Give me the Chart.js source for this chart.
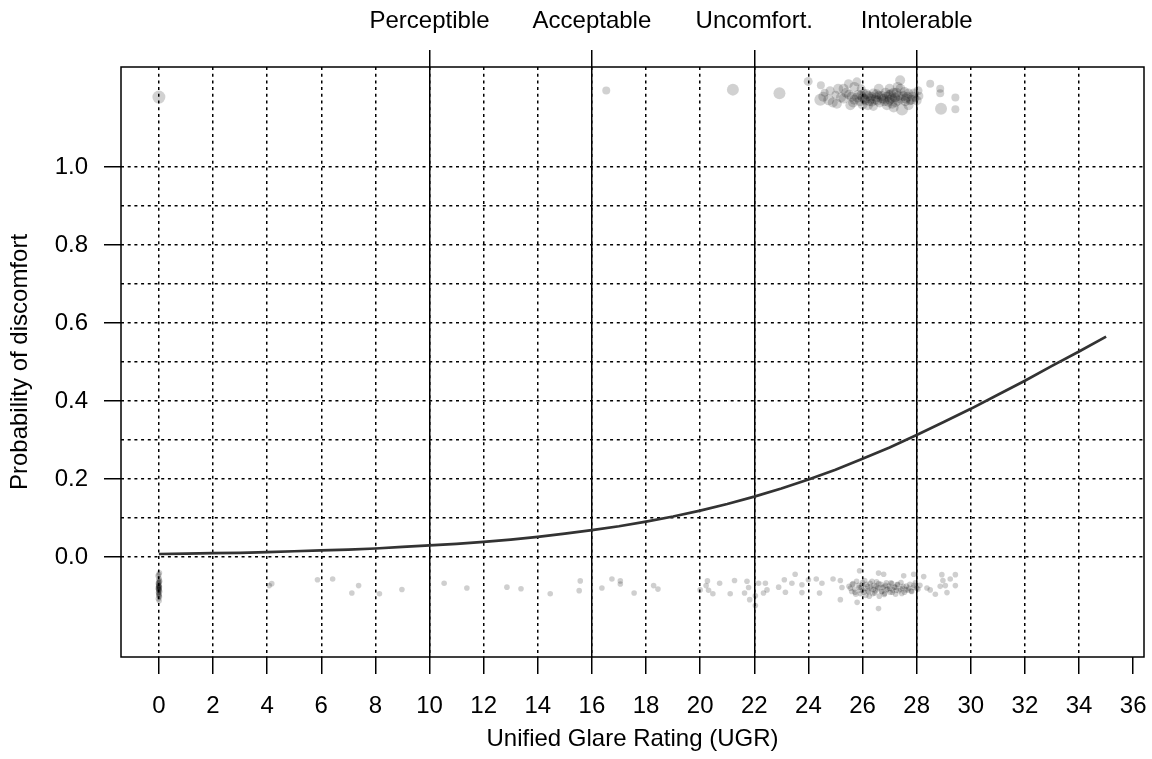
<!DOCTYPE html>
<html>
<head>
<meta charset="utf-8">
<script src="https://cdn.jsdelivr.net/npm/chart.js@4"></script>
<style>
  body { margin: 0; background: #fff; }
</style>
</head>
<body>
<canvas id="grafico" width="1152" height="759"></canvas>
<script>
// tick values
const xTicks = [0, 2, 4, 6, 8, 10, 12, 14, 16, 18, 20, 22, 24, 26, 28, 30, 32, 34, 36];
const yGrid = [0, 0.1, 0.2, 0.3, 0.4, 0.5, 0.6, 0.7, 0.8, 0.9, 1.0];
const zoneTicks = [10, 16, 22, 28];
const zoneLabels = ["Perceptible", "Acceptable", "Uncomfort.", "Intolerable"];

// fitted curve
const curveX = [0, 1, 2, 3, 4, 5, 6, 7, 8, 9, 10, 11, 12, 13, 14, 15, 16, 17, 18, 19, 20, 21, 22, 23, 24, 25, 26, 27, 28, 29, 30, 31, 32, 33, 34, 35];
const curveY = [0.008, 0.009, 0.010, 0.011, 0.013, 0.015, 0.017, 0.019, 0.022, 0.026, 0.030, 0.034, 0.039, 0.045, 0.052, 0.060, 0.069, 0.079, 0.091, 0.104, 0.119, 0.136, 0.155, 0.176, 0.199, 0.224, 0.252, 0.281, 0.313, 0.346, 0.380, 0.416, 0.452, 0.490, 0.527, 0.565];

// "discomfort" answers, jittered above the plot: [ugr, y, radius]
const topPoints = [
  [0.0, 1.179, 6.5], [16.53, 1.196, 4], [21.21, 1.198, 6], [22.93, 1.189, 6], [23.99, 1.219, 4.5],
  [24.46, 1.209, 4], [24.44, 1.172, 6], [24.75, 1.172, 5.5], [24.6, 1.19, 4], [25.0, 1.185, 4],
  [25.2, 1.178, 5], [25.48, 1.213, 4.5], [25.79, 1.218, 4.5], [25.55, 1.158, 5], [25.4, 1.19, 5],
  [25.6, 1.18, 5], [25.7, 1.172, 5], [25.85, 1.185, 5], [25.9, 1.168, 5], [26.0, 1.178, 5],
  [26.05, 1.19, 4], [26.1, 1.17, 5], [26.2, 1.182, 5], [26.3, 1.175, 5], [26.35, 1.165, 4],
  [26.4, 1.188, 5], [26.5, 1.178, 5], [26.55, 1.17, 5], [26.6, 1.184, 4], [26.7, 1.176, 5],
  [26.8, 1.168, 5], [26.85, 1.19, 5], [26.9, 1.18, 5], [27.0, 1.172, 5], [27.05, 1.186, 5],
  [27.1, 1.162, 5], [27.2, 1.178, 5], [27.25, 1.19, 5], [27.3, 1.17, 5], [27.39, 1.222, 5],
  [27.4, 1.2, 5], [27.46, 1.147, 6], [27.5, 1.182, 5], [27.6, 1.175, 5], [27.7, 1.188, 5],
  [27.75, 1.168, 4], [27.85, 1.18, 5], [27.95, 1.176, 4], [28.1, 1.182, 4], [28.5, 1.213, 4],
  [28.87, 1.2, 4], [28.87, 1.189, 4], [28.9, 1.149, 6], [29.43, 1.178, 4], [29.43, 1.148, 4],
  [25.3, 1.175, 5], [25.5, 1.185, 5], [25.65, 1.165, 5], [25.8, 1.178, 5], [25.95, 1.183, 5],
  [26.08, 1.174, 5], [26.15, 1.186, 5], [26.25, 1.168, 5], [26.33, 1.18, 5], [26.45, 1.172, 5],
  [26.52, 1.186, 5], [26.63, 1.165, 5], [26.72, 1.182, 5], [26.78, 1.174, 5], [26.95, 1.167, 5],
  [26.98, 1.184, 5], [27.08, 1.176, 5], [27.15, 1.19, 5], [27.22, 1.166, 5], [27.33, 1.182, 5],
  [27.42, 1.174, 5], [27.55, 1.192, 5], [27.58, 1.168, 5], [27.65, 1.18, 5], [27.8, 1.172, 5],
  [27.9, 1.188, 5], [28.0, 1.17, 5], [25.1, 1.2, 5], [24.9, 1.165, 5], [24.55, 1.18, 5],
  [25.3, 1.2, 5], [25.7, 1.205, 5], [26.2, 1.158, 5], [26.6, 1.2, 5], [26.9, 1.158, 5],
  [27.3, 1.205, 5], [27.7, 1.158, 5], [26.0, 1.16, 5], [27.0, 1.2, 5], [25.95, 1.2, 4.5],
  [27.15, 1.152, 5], [26.4, 1.155, 4.5], [24.8, 1.195, 4.5], [25.05, 1.162, 5], [28.05, 1.195, 4.5]
];

// "no discomfort" answers, jittered below the plot: [ugr, y]
const botPoints = [
  [0.02, -0.040], [-0.03, -0.048], [0.01, -0.055], [0.03, -0.062], [-0.02, -0.067], [0.0, -0.072],
  [0.02, -0.076], [-0.03, -0.080], [0.01, -0.084], [0.03, -0.088], [-0.01, -0.092], [0.0, -0.097],
  [0.02, -0.102], [-0.02, -0.107], [0.01, -0.112], [0.0, -0.078], [-0.01, -0.083], [0.0, -0.045],
  [0.0, -0.058], [0.01, -0.064], [-0.01, -0.070], [0.0, -0.074], [0.01, -0.079], [0.0, -0.086],
  [-0.01, -0.090], [0.0, -0.095], [0.01, -0.100], [0.0, -0.065], [-0.01, -0.075], [0.0, -0.082],
  [4.17, -0.068], [4.08, -0.073], [5.86, -0.058], [6.42, -0.056], [7.13, -0.092], [7.38, -0.073],
  [8.15, -0.094], [8.98, -0.083], [10.54, -0.067], [11.38, -0.079], [12.86, -0.077], [13.38, -0.081],
  [14.46, -0.094], [15.57, -0.061], [15.53, -0.086], [16.37, -0.079], [16.74, -0.056], [17.05, -0.061],
  [17.05, -0.069], [17.56, -0.092], [18.28, -0.073], [18.44, -0.082],
  [20.0, -0.084], [20.27, -0.061], [20.22, -0.073], [20.31, -0.085], [20.47, -0.094], [20.72, -0.067],
  [21.11, -0.094], [21.27, -0.060], [21.64, -0.092], [21.73, -0.062], [21.79, -0.078], [21.83, -0.109],
  [22.04, -0.124], [22.04, -0.099], [22.16, -0.067], [22.41, -0.067], [22.47, -0.084], [22.34, -0.092],
  [22.9, -0.077], [23.11, -0.058], [23.15, -0.090], [23.39, -0.067], [23.51, -0.044], [23.76, -0.071],
  [23.76, -0.091], [24.0, -0.058], [24.29, -0.056], [24.41, -0.092], [24.5, -0.067], [24.91, -0.056],
  [25.18, -0.060], [25.18, -0.109], [25.24, -0.078], [25.89, -0.035], [25.8, -0.116], [26.59, -0.132],
  [26.59, -0.041], [26.78, -0.044],
  [25.5, -0.075], [25.6, -0.088], [25.65, -0.068], [25.7, -0.082], [25.75, -0.095], [25.85, -0.072],
  [25.9, -0.085], [25.95, -0.078], [26.0, -0.065], [26.05, -0.090], [26.1, -0.080], [26.15, -0.070],
  [26.2, -0.086], [26.25, -0.100], [26.3, -0.076], [26.35, -0.062], [26.4, -0.083], [26.45, -0.092],
  [26.5, -0.074], [26.55, -0.081], [26.6, -0.068], [26.7, -0.088], [26.75, -0.078], [26.8, -0.096],
  [26.85, -0.072], [26.9, -0.084], [27.0, -0.080], [27.05, -0.066], [27.1, -0.090], [27.2, -0.077],
  [27.25, -0.085], [27.3, -0.070], [27.4, -0.082], [27.45, -0.093], [27.5, -0.075], [27.6, -0.084],
  [27.7, -0.079], [27.8, -0.087], [27.9, -0.072], [28.0, -0.080],
  [25.55, -0.080], [25.62, -0.070], [25.72, -0.090], [25.78, -0.062], [25.88, -0.078], [25.92, -0.094],
  [25.98, -0.071], [26.02, -0.085], [26.08, -0.060], [26.12, -0.098], [26.18, -0.075], [26.22, -0.089],
  [26.28, -0.067], [26.32, -0.081], [26.38, -0.094], [26.42, -0.072], [26.48, -0.086], [26.52, -0.063],
  [26.58, -0.078], [26.62, -0.100], [26.68, -0.070], [26.72, -0.088], [26.78, -0.076], [26.82, -0.093],
  [26.88, -0.066], [26.92, -0.082], [26.98, -0.074], [27.02, -0.090], [27.08, -0.068], [27.12, -0.084],
  [27.18, -0.077], [27.22, -0.095], [27.28, -0.071], [27.35, -0.086], [27.42, -0.065], [27.48, -0.080],
  [27.55, -0.090], [27.62, -0.074], [27.68, -0.084], [27.75, -0.070], [27.82, -0.088], [27.88, -0.078],
  [27.95, -0.066], [28.05, -0.082], [28.12, -0.072],
  [27.52, -0.048], [27.89, -0.044], [28.26, -0.050], [28.5, -0.084], [28.69, -0.095], [28.93, -0.045],
  [28.97, -0.060], [29.06, -0.073], [29.12, -0.091], [29.24, -0.056], [29.43, -0.045], [29.43, -0.073],
  [28.87, -0.075], [28.38, -0.079]
];

const negro = "#000000";
Chart.defaults.font.family = "'Liberation Sans', Arial, sans-serif";
Chart.defaults.font.size = 24;
Chart.defaults.color = negro;

const marco = {
  id: "marco",
  afterDraw(chart) {
    const a = chart.chartArea;
    const ctx = chart.ctx;
    ctx.save();
    ctx.strokeStyle = negro;
    ctx.lineWidth = 1.5;
    ctx.strokeRect(a.left, a.top, a.right - a.left, a.bottom - a.top);
    ctx.restore();
  }
};

function sinMargenX(s) {
  s.paddingLeft = 0;
  s.paddingRight = 0;
}

new Chart(document.getElementById("grafico"), {
  type: "scatter",
  data: {
    datasets: [
      {
        data: topPoints.map(p => ({ x: p[0], y: p[1] })),
        pointRadius: topPoints.map(p => p[2]),
        pointBackgroundColor: "rgba(0,0,0,0.18)",
        pointBorderWidth: 0
      },
      {
        data: botPoints.map(p => ({ x: p[0], y: p[1] })),
        pointRadius: 2.8,
        pointBackgroundColor: "rgba(0,0,0,0.19)",
        pointBorderWidth: 0
      },
      {
        type: "line",
        data: curveX.map((x, i) => ({ x: x, y: curveY[i] })),
        borderColor: "#333333",
        borderWidth: 2.7,
        pointRadius: 0,
        fill: false
      }
    ]
  },
  options: {
    responsive: false,
    animation: false,
    events: [],
    layout: { padding: { left: 0, right: 8, top: 0, bottom: 0 } },
    plugins: { legend: { display: false }, tooltip: { enabled: false } },
    scales: {
      x: {
        type: "linear",
        position: "bottom",
        min: -1.4,
        max: 36.4,
        afterBuildTicks: s => { s.ticks = xTicks.map(v => ({ value: v })); },
        afterFit: s => { s.height = 102; sinMargenX(s); },
        ticks: { padding: 18, maxRotation: 0, autoSkip: false },
        grid: {
          color: c => (c.tick && c.tick.value === 36) ? "rgba(0,0,0,0)" : negro,
          lineWidth: 1.5,
          tickLength: 17,
          tickColor: negro,
          tickWidth: 1.5
        },
        border: { display: false, dash: [3, 3.7] },
        title: { display: true, text: "Unified Glare Rating (UGR)", padding: { top: 0, bottom: 5 } }
      },
      xTop: {
        type: "linear",
        position: "top",
        min: -1.4,
        max: 36.4,
        afterBuildTicks: s => { s.ticks = zoneTicks.map(v => ({ value: v })); },
        afterFit: s => { s.height = 67; sinMargenX(s); },
        ticks: {
          padding: 14,
          maxRotation: 0,
          autoSkip: false,
          callback: v => zoneLabels[zoneTicks.indexOf(v)]
        },
        grid: { color: negro, lineWidth: 1.5, tickLength: 17, tickColor: negro, tickWidth: 1.5 },
        border: { display: false }
      },
      y: {
        type: "linear",
        min: -0.256,
        max: 1.256,
        afterBuildTicks: s => { s.ticks = yGrid.map(v => ({ value: v })); },
        afterFit: s => { s.width = 121; s.paddingTop = 0; s.paddingBottom = 0; },
        ticks: {
          padding: 16,
          callback: v => (Math.round(v * 10) % 2 === 0) ? v.toFixed(1) : ""
        },
        grid: {
          color: negro,
          lineWidth: 1.5,
          tickLength: 17,
          tickColor: c => (c.tick && Math.round(c.tick.value * 10) % 2 === 0) ? negro : "rgba(0,0,0,0)",
          tickWidth: 1.5
        },
        border: { display: false, dash: [3, 3.7] },
        title: { display: true, text: "Probability of discomfort", padding: { top: 6, bottom: 0 } }
      }
    }
  },
  plugins: [marco]
});
</script>
</body>
</html>
